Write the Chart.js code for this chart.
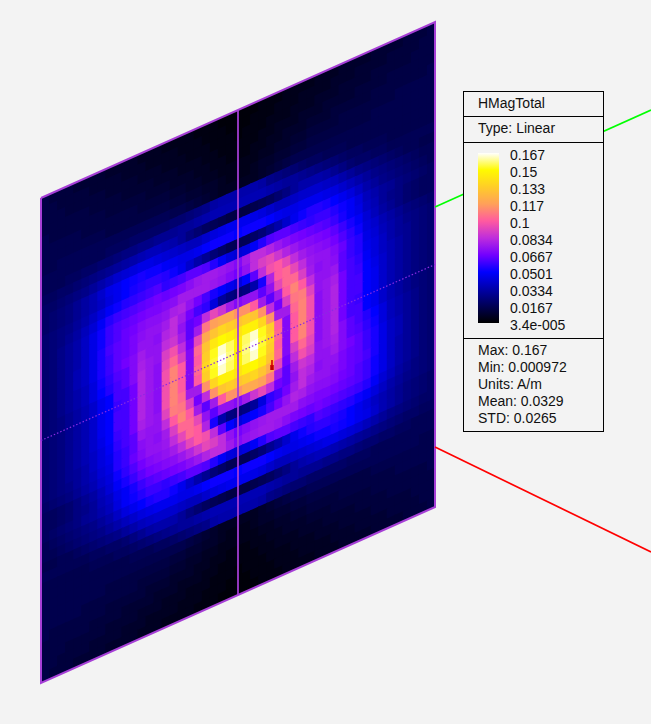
<!DOCTYPE html>
<html>
<head>
<meta charset="utf-8">
<title>HMagTotal</title>
<script src="https://cdn.jsdelivr.net/npm/chart.js@4/dist/chart.umd.min.js"></script>
<style>
html, body { margin: 0; background: #f3f3f3; }
#wrap { position: relative; width: 651px; height: 724px; overflow: hidden; }
#plot { position: absolute; left: 0; top: 0; }
#legend { position: absolute; left: 463px; top: 91px; width: 139px; height: 339px; border: 1px solid #000; background: #f3f3f3;
  font: 14px "Liberation Sans", Arial, sans-serif; color: #111; }
#legend div { position: absolute; white-space: nowrap; line-height: 17px; }
#legend .sep { left: 0; width: 139px; height: 1px; background: #000; }
</style>
</head>
<body>
<div id="wrap">
  <canvas id="plot" width="651" height="724"></canvas>
  <div id="legend"></div>
</div>
<script>
// legend texts
const legendTitle = 'HMagTotal'
const legendType = 'Type: Linear'
const colorbarLabels = ['0.167', '0.15', '0.133', '0.117', '0.1', '0.0834', '0.0667', '0.0501', '0.0334', '0.0167', '3.4e-005']
const statLabels = ['Max: 0.167', 'Min: 0.000972', 'Units: A/m', 'Mean: 0.0329', 'STD: 0.0265']

// colour ramp: position on the bar, r, g, b
const rampStops = [0, 0.3, 0.4, 0.5, 0.6, 0.7, 0.8, 0.9, 1]
const rampColors = [[0,0,0], [0,0,255], [115,0,255], [190,45,220], [255,90,160], [255,160,90], [255,205,40], [255,250,0], [255,255,255]]

// field, percent of the bar, top row first, left column first
const fieldRows = [
[8,7,7,7,6,6,6,6,5,5,5,5,4,4,4,3,3,3,3,2,2,2,1,1,1,1,1,2,2,2,3,3,3,3,4,4,4,5,5,5,5,6,6,6,6,7,7,7,8],
[8,8,7,7,7,7,6,6,6,6,5,5,5,4,4,4,4,3,3,3,2,2,2,1,1,1,2,2,2,3,3,3,4,4,4,4,5,5,5,6,6,6,6,7,7,7,7,8,8],
[8,8,8,7,7,7,7,7,6,6,6,6,5,5,5,4,4,4,3,3,3,2,2,2,1,2,2,2,3,3,3,4,4,4,5,5,5,6,6,6,6,7,7,7,7,7,8,8,8],
[8,8,8,8,8,8,7,7,7,7,6,6,6,6,5,5,5,4,4,4,3,3,2,2,2,2,2,3,3,4,4,4,5,5,5,6,6,6,6,7,7,7,7,8,8,8,8,8,8],
[9,8,8,8,8,8,8,8,7,7,7,7,7,6,6,6,5,5,5,4,4,3,3,2,2,2,3,3,4,4,5,5,5,6,6,6,7,7,7,7,7,8,8,8,8,8,8,8,9],
[9,9,9,9,9,8,8,8,8,8,8,8,7,7,7,7,6,6,5,5,4,4,3,3,3,3,3,4,4,5,5,6,6,7,7,7,7,8,8,8,8,8,8,8,9,9,9,9,9],
[9,9,9,9,9,9,9,9,8,8,8,8,8,8,8,8,7,7,6,6,5,5,4,3,3,3,4,5,5,6,6,7,7,8,8,8,8,8,8,8,8,9,9,9,9,9,9,9,9],
[9,9,10,10,10,10,10,10,10,10,10,10,10,10,10,10,9,9,8,7,6,5,4,4,4,4,4,5,6,7,8,9,9,9,9,9,9,9,9,9,9,9,9,9,9,9,9,9,9],
[10,10,10,10,10,10,10,10,11,11,11,12,12,12,12,12,13,13,14,15,16,19,20,20,20,20,20,19,16,15,14,13,12,11,11,10,10,10,9,9,9,9,9,9,9,9,9,9,9],
[10,10,10,11,11,12,12,13,13,14,15,15,16,16,17,17,17,18,18,19,20,21,21,21,21,21,21,21,20,19,18,18,17,16,15,14,13,12,11,11,10,10,10,9,9,9,9,9,9],
[11,11,12,12,13,14,15,16,17,18,19,20,21,22,22,21,20,18,15,13,11,10,9,8,8,8,9,10,11,13,15,18,20,20,20,19,17,15,13,12,12,11,11,10,10,10,10,10,10],
[12,12,13,14,15,16,18,20,22,24,25,26,27,27,26,25,24,23,22,22,24,26,27,28,28,28,27,26,24,22,22,23,24,24,24,23,22,20,18,16,15,14,13,12,11,10,10,9,9],
[12,13,14,15,17,19,21,24,27,28,30,31,32,31,31,29,28,27,27,28,30,31,31,31,30,31,31,31,30,28,27,27,28,28,28,27,26,24,22,20,18,16,15,14,13,12,11,10,10],
[12,13,14,15,17,19,21,23,26,28,30,32,33,34,34,33,31,28,24,20,17,14,12,10,10,10,12,14,17,20,24,28,31,33,33,32,30,28,26,23,20,18,16,15,14,13,12,11,10],
[13,14,15,16,18,20,23,26,29,31,33,34,35,36,37,34,35,36,38,38,37,33,29,26,25,26,29,33,37,38,38,36,35,34,35,35,33,31,29,26,22,20,18,17,15,14,13,12,11],
[13,14,15,17,19,22,25,29,33,35,36,37,38,39,40,39,40,41,43,45,46,46,45,44,42,46,50,50,48,45,43,41,40,39,38,37,35,32,29,27,23,21,18,16,15,13,12,11,11],
[13,14,16,18,20,23,27,31,35,37,38,39,40,41,41,42,43,46,46,46,46,45,44,42,40,44,50,54,56,52,48,45,43,42,41,40,38,35,32,29,25,22,19,17,15,13,12,11,11],
[13,14,16,18,20,23,27,31,35,37,39,40,42,43,43,44,47,48,44,40,36,32,30,28,26,30,38,50,58,60,56,50,46,44,43,42,40,37,34,31,26,24,21,19,17,15,14,13,12],
[13,14,16,18,20,23,27,32,36,38,39,41,43,44,44,46,50,46,40,36,34,26,18,15,14,15,20,32,48,60,62,56,50,45,44,44,42,39,35,33,27,25,22,20,18,16,15,14,13],
[13,14,16,18,21,23,27,32,35,38,39,41,44,44,43,48,50,44,38,40,50,56,52,46,42,44,44,38,44,56,62,62,54,46,43,44,43,38,35,33,28,26,23,20,18,17,15,14,13],
[13,14,16,18,21,23,27,32,35,38,40,42,46,44,44,50,52,46,38,46,64,70,72,72,68,68,60,46,38,46,60,66,60,50,44,44,45,38,36,34,29,26,23,21,19,17,15,14,13],
[13,14,16,18,20,22,26,31,34,37,38,42,47,45,44,54,58,50,40,56,72,78,82,80,78,80,78,68,50,40,54,64,65,55,44,45,47,40,36,35,30,27,24,21,19,17,15,14,13],
[13,14,16,18,20,22,26,30,33,36,38,42,48,45,43,56,62,54,42,62,78,86,90,88,85,88,88,82,68,46,46,62,66,58,43,45,48,40,36,36,30,28,24,21,19,17,15,14,13],
[13,14,15,17,19,21,24,28,30,36,36,40,48,45,43,58,66,60,42,60,80,91,98,94,88,94,98,91,80,60,42,60,66,58,43,45,48,40,36,36,30,28,24,21,19,17,15,14,13],
[13,14,15,17,19,21,24,28,30,35,36,40,48,45,43,58,66,60,42,62,82,92,100,95,88,95,100,92,82,62,42,60,66,58,43,45,48,40,36,35,30,28,24,21,19,17,15,14,13],
[13,14,15,17,19,21,24,28,30,36,36,40,48,45,43,58,66,60,42,60,80,91,98,94,88,94,98,91,80,60,42,60,66,58,43,45,48,40,36,36,30,28,24,21,19,17,15,14,13],
[13,14,15,17,19,21,24,28,30,36,36,40,48,45,43,58,66,62,46,46,68,82,88,88,85,88,90,86,78,62,42,54,62,56,43,45,48,42,38,36,33,30,26,22,20,18,16,14,13],
[13,14,15,17,19,21,24,27,30,35,36,40,47,45,44,55,65,64,54,40,50,68,78,80,78,80,82,78,72,56,40,50,58,54,44,45,47,42,38,37,34,31,26,22,20,18,16,14,13],
[13,14,15,17,19,21,23,26,29,34,36,38,45,44,44,50,60,66,60,46,38,46,60,68,68,72,72,70,64,46,38,46,52,50,44,44,46,42,40,38,35,32,27,23,21,18,16,14,13],
[13,14,15,17,18,20,23,26,28,33,35,38,43,44,43,46,54,62,62,56,44,38,44,44,42,46,52,56,50,40,38,44,50,48,43,44,44,41,39,38,35,32,27,23,21,18,16,14,13],
[13,14,15,16,18,20,22,25,27,33,35,39,42,44,44,45,50,56,62,60,48,32,20,15,14,15,18,26,34,36,40,46,50,46,44,44,43,41,39,38,36,32,27,23,20,18,16,14,13],
[12,13,14,15,17,19,21,24,26,31,34,37,40,42,43,44,46,50,56,60,58,50,38,30,26,28,30,32,36,40,44,48,47,44,43,43,42,40,39,37,35,31,27,23,20,18,16,14,13],
[11,11,12,13,15,17,19,22,25,29,32,35,38,40,41,42,43,45,48,52,56,54,50,44,40,42,44,45,46,46,46,46,43,42,41,41,40,39,38,37,35,31,27,23,20,18,16,14,13],
[11,11,12,13,15,16,18,21,23,27,29,32,35,37,38,39,40,41,43,45,48,50,50,46,42,44,45,46,46,45,43,41,40,39,40,39,38,37,36,35,33,29,25,22,19,17,15,14,13],
[11,12,13,14,15,17,18,20,22,26,29,31,33,35,35,34,35,36,38,38,37,33,29,26,25,26,29,33,37,38,38,36,35,34,37,36,35,34,33,31,29,26,23,20,18,16,15,14,13],
[10,11,12,13,14,15,16,18,20,23,26,28,30,32,33,33,31,28,24,20,17,14,12,10,10,10,12,14,17,20,24,28,31,33,34,34,33,32,30,28,26,23,21,19,17,15,14,13,12],
[10,10,11,12,13,14,15,16,18,20,22,24,26,27,28,28,28,27,27,28,30,31,31,31,30,31,31,31,30,28,27,27,28,29,31,31,32,31,30,28,27,24,21,19,17,15,14,13,12],
[9,9,10,10,11,12,13,14,15,16,18,20,22,23,24,24,24,23,22,22,24,26,27,28,28,28,27,26,24,22,22,23,24,25,26,27,27,26,25,24,22,20,18,16,15,14,13,12,12],
[10,10,10,10,10,10,11,11,12,12,13,15,17,19,20,20,20,18,15,13,11,10,9,8,8,8,9,10,11,13,15,18,20,21,22,22,21,20,19,18,17,16,15,14,13,12,12,11,11],
[9,9,9,9,9,9,10,10,10,11,11,12,13,14,15,16,17,18,18,19,20,21,21,21,21,21,21,21,20,19,18,18,17,17,17,16,16,15,15,14,13,13,12,12,11,11,10,10,10],
[9,9,9,9,9,9,9,9,9,9,9,10,10,10,11,11,12,13,14,15,16,19,20,20,20,20,20,19,16,15,14,13,13,12,12,12,12,12,11,11,11,10,10,10,10,10,10,10,10],
[9,9,9,9,9,9,9,9,9,9,9,9,9,9,9,9,9,9,8,7,6,5,4,4,4,4,4,5,6,7,8,9,9,10,10,10,10,10,10,10,10,10,10,10,10,10,10,9,9],
[9,9,9,9,9,9,9,9,8,8,8,8,8,8,8,8,7,7,6,6,5,5,4,3,3,3,4,5,5,6,6,7,7,8,8,8,8,8,8,8,8,9,9,9,9,9,9,9,9],
[9,9,9,9,9,8,8,8,8,8,8,8,7,7,7,7,6,6,5,5,4,4,3,3,3,3,3,4,4,5,5,6,6,7,7,7,7,8,8,8,8,8,8,8,9,9,9,9,9],
[9,8,8,8,8,8,8,8,7,7,7,7,7,6,6,6,5,5,5,4,4,3,3,2,2,2,3,3,4,4,5,5,5,6,6,6,7,7,7,7,7,8,8,8,8,8,8,8,9],
[8,8,8,8,8,8,7,7,7,7,6,6,6,6,5,5,5,4,4,4,3,3,2,2,2,2,2,3,3,4,4,4,5,5,5,6,6,6,6,7,7,7,7,8,8,8,8,8,8],
[8,8,8,7,7,7,7,7,6,6,6,6,5,5,5,4,4,4,3,3,3,2,2,2,1,2,2,2,3,3,3,4,4,4,5,5,5,6,6,6,6,7,7,7,7,7,8,8,8],
[8,8,7,7,7,7,6,6,6,6,5,5,5,4,4,4,4,3,3,3,2,2,2,1,1,1,2,2,2,3,3,3,4,4,4,4,5,5,5,6,6,6,6,7,7,7,7,8,8],
[8,7,7,7,6,6,6,6,5,5,5,5,4,4,4,3,3,3,3,2,2,2,1,1,1,1,1,2,2,2,3,3,3,3,4,4,4,5,5,5,5,6,6,6,6,7,7,7,8]
]

// where the tilted plate sits, in picture units
const plate = { left: 41, right: 435, top: 198, rise: 176, height: 485 }
const nRows = fieldRows.length
const nCols = fieldRows[0].length

function platePoint(u, v) {
    return {
        x: plate.left + u * (plate.right - plate.left),
        y: plate.top - u * plate.rise + v * plate.height
    }
}

function rampColor(t) {
    let k = 0
    while (k < rampStops.length - 2 && t > rampStops[k + 1]) k++
    const f = Math.min(1, Math.max(0, (t - rampStops[k]) / (rampStops[k + 1] - rampStops[k])))
    const a = rampColors[k], b = rampColors[k + 1]
    return `rgb(${a.map((c, i) => Math.round(c + (b[i] - c) * f)).join(',')})`
}

const cellPoints = []
fieldRows.forEach((row, r) => {
    row.forEach((value, c) => {
        const p = platePoint((c + 0.5) / nCols, (r + 0.5) / nRows)
        cellPoints.push({ x: p.x, y: p.y, col: c, row: r, value: value })
    })
})

// draws the plate cells as sheared quads through the chart scales
// each cell runs a little under its right and lower neighbour so no seams show
const cellPlugin = {
    id: 'plateCells',
    beforeDatasetsDraw(chart) {
        const ctx = chart.ctx
        const xs = chart.scales.x, ys = chart.scales.y
        const corner = (c, r) => {
            const p = platePoint(c / nCols, r / nRows)
            return [xs.getPixelForValue(p.x), ys.getPixelForValue(p.y)]
        }
        ctx.save()
        chart.data.datasets[0].data.forEach(cell => {
            const right = Math.min(cell.col + 1.2, nCols)
            const low = Math.min(cell.row + 1.2, nRows)
            const a = corner(cell.col, cell.row)
            const b = corner(right, cell.row)
            const d = corner(right, low)
            const e = corner(cell.col, low)
            ctx.fillStyle = rampColor(cell.value / 100)
            ctx.beginPath()
            ctx.moveTo(a[0], a[1])
            ctx.lineTo(b[0], b[1])
            ctx.lineTo(d[0], d[1])
            ctx.lineTo(e[0], e[1])
            ctx.closePath()
            ctx.fill()
        })
        ctx.restore()
    }
}

function lineSet(points, color, width, dash) {
    return {
        data: points,
        showLine: true,
        pointRadius: 0,
        borderColor: color,
        borderWidth: width,
        borderDash: dash || [],
        fill: false
    }
}

const plateEdge = [platePoint(0, 0), platePoint(1, 0), platePoint(1, 1), platePoint(0, 1), platePoint(0, 0)]
const purple = '#a63fd6'

new Chart(document.getElementById('plot'), {
    type: 'scatter',
    data: {
        datasets: [
            { data: cellPoints, pointRadius: 0, showLine: false },
            lineSet([{ x: 435, y: 207 }, { x: 651, y: 110 }], '#00ff00', 1.6),
            lineSet([{ x: 435, y: 447 }, { x: 651, y: 552 }], '#ff0000', 1.6),
            lineSet([platePoint(0.5, 0), platePoint(0.5, 1)], purple, 1),
            lineSet([platePoint(0, 0.5), platePoint(1, 0.5)], '#8a2be2', 1.2, [1.5, 2]),
            lineSet(plateEdge, purple, 2),
            lineSet([{ x: 272, y: 360 }, { x: 272, y: 366 }], '#d80000', 1.6),
            lineSet([{ x: 272, y: 365 }, { x: 272, y: 370 }], '#c00000', 3.5)
        ]
    },
    options: {
        responsive: false,
        animation: false,
        devicePixelRatio: 1,
        layout: { padding: 0 },
        plugins: { legend: { display: false }, tooltip: { enabled: false } },
        scales: {
            x: { type: 'linear', display: false, min: 0, max: 651 },
            y: { type: 'linear', display: false, min: 0, max: 724, reverse: true }
        }
    },
    plugins: [cellPlugin]
})

// legend panel
const legend = document.getElementById('legend')

function addText(text, left, centerY) {
    const el = document.createElement('div')
    el.textContent = text
    el.style.left = left + 'px'
    el.style.top = (centerY - 8.5) + 'px'
    legend.appendChild(el)
}

function addSep(top) {
    const el = document.createElement('div')
    el.className = 'sep'
    el.style.top = top + 'px'
    legend.appendChild(el)
}

addText(legendTitle, 14, 11)
addSep(24)
addText(legendType, 14, 36.5)
addSep(50)
addSep(246)

const bar = document.createElement('div')
bar.style.cssText = 'left:14px;top:61px;width:21px;height:170px'
bar.style.background = 'linear-gradient(to top,' + rampStops.map((s, i) => `rgb(${rampColors[i].join(',')}) ${s * 100}%`).join(',') + ')'
legend.appendChild(bar)

colorbarLabels.forEach((label, i) => addText(label, 46, 63 + i * 17))
statLabels.forEach((label, i) => addText(label, 14, 258 + i * 17))
</script>
</body>
</html>
